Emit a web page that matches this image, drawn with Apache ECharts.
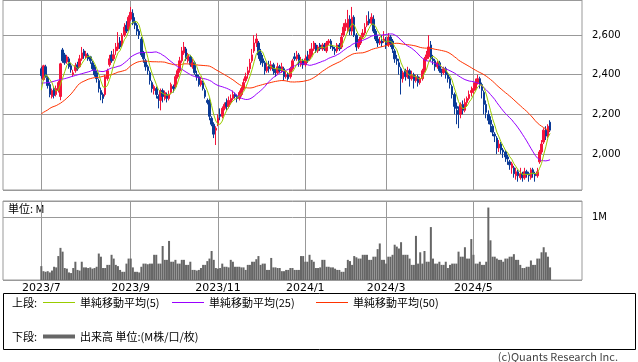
<!DOCTYPE html>
<html><head><meta charset="utf-8">
<script src="https://cdn.jsdelivr.net/npm/echarts/dist/echarts.min.js"></script>
<style>html,body{margin:0;padding:0;background:#fff}#c{width:638px;height:362px}</style>
</head><body><div id="c"></div><script>
// ---- data ----
// daily candles 2023/7/3 .. 2024/6/24 : [open, close, low, high]
const candles = [
[2430,2395,2380,2440],[2375,2445,2370,2450],[2440,2390,2385,2450],[2385,2345,2330,2395],[2350,2300,2286,2360],
[2290,2320,2280,2330],[2330,2295,2280,2340],[2300,2330,2290,2345],[2320,2360,2310,2370],[2290,2455,2271,2460],
[2525,2470,2460,2535],[2500,2460,2450,2510],[2465,2490,2455,2500],[2480,2440,2430,2490],[2445,2425,2410,2460],
[2400,2410,2390,2425],[2420,2445,2410,2460],[2450,2430,2420,2465],[2440,2480,2435,2500],[2480,2510,2470,2540],
[2520,2495,2480,2530],[2490,2505,2480,2520],[2500,2480,2470,2510],[2490,2470,2455,2495],[2460,2430,2420,2470],
[2440,2400,2390,2450],[2410,2380,2360,2420],[2370,2330,2310,2380],[2320,2300,2271,2335],[2300,2280,2256,2310],
[2300,2390,2290,2400],[2380,2420,2370,2430],[2450,2480,2440,2500],[2500,2470,2460,2520],[2480,2500,2470,2530],
[2520,2540,2500,2560],[2530,2560,2520,2615],[2570,2540,2530,2590],[2550,2600,2540,2610],[2600,2640,2590,2660],
[2650,2620,2610,2670],[2630,2690,2620,2700],[2680,2715,2670,2742],[2710,2660,2650,2730],[2670,2650,2630,2690],
[2650,2620,2600,2660],[2620,2600,2580,2630],[2580,2500,2490,2590],[2510,2480,2460,2520],[2470,2440,2420,2480],
[2440,2420,2400,2450],[2410,2370,2350,2420],[2360,2330,2310,2370],[2320,2340,2300,2350],[2330,2300,2280,2340],
[2290,2280,2230,2300],[2270,2320,2220,2330],[2320,2290,2260,2330],[2280,2310,2270,2320],[2300,2280,2260,2310],
[2280,2300,2270,2320],[2310,2350,2300,2360],[2340,2330,2310,2350],[2340,2390,2330,2400],[2390,2420,2380,2430],
[2420,2470,2410,2490],[2470,2520,2460,2540],[2510,2540,2500,2565],[2530,2480,2470,2540],[2470,2500,2460,2510],
[2490,2450,2440,2500],[2440,2460,2430,2480],[2460,2410,2400,2470],[2400,2390,2370,2420],[2390,2350,2340,2400],
[2350,2370,2340,2390],[2360,2330,2320,2370],[2320,2290,2280,2330],[2270,2260,2250,2280],[2270,2190,2170,2280],
[2180,2150,2140,2190],[2150,2100,2080,2160],[2120,2130,2045,2140],[2150,2180,2140,2200],[2200,2190,2170,2230],
[2190,2230,2180,2240],[2230,2250,2220,2260],[2260,2240,2220,2280],[2240,2270,2230,2290],[2260,2280,2250,2300],
[2280,2300,2270,2320],[2300,2290,2280,2310],[2290,2280,2260,2300],[2280,2310,2270,2320],[2300,2330,2290,2340],
[2330,2360,2320,2380],[2370,2390,2360,2410],[2400,2420,2380,2440],[2430,2460,2410,2480],[2470,2500,2460,2530],
[2520,2560,2510,2600],[2560,2580,2540,2608],[2560,2500,2480,2570],[2510,2470,2450,2530],[2480,2460,2440,2500],
[2460,2420,2400,2470],[2420,2440,2410,2460],[2450,2430,2410,2470],[2430,2450,2420,2470],[2450,2420,2400,2460],
[2420,2410,2390,2430],[2410,2440,2400,2460],[2440,2420,2410,2450],[2420,2440,2410,2460],[2430,2390,2370,2440],
[2390,2400,2380,2420],[2400,2380,2370,2410],[2390,2430,2380,2440],[2430,2470,2420,2480],[2490,2480,2470,2510],
[2480,2500,2470,2520],[2500,2460,2440,2510],[2450,2470,2440,2490],[2470,2450,2430,2480],[2450,2480,2440,2500],
[2490,2470,2460,2520],[2480,2500,2470,2530],[2500,2530,2490,2560],[2530,2560,2520,2570],[2550,2520,2510,2560],
[2520,2540,2510,2550],[2550,2530,2520,2560],[2530,2550,2520,2560],[2550,2530,2520,2560],[2520,2560,2510,2570],
[2560,2570,2550,2580],[2570,2540,2530,2580],[2540,2530,2520,2550],[2530,2520,2500,2540],[2520,2550,2510,2560],
[2550,2530,2520,2560],[2540,2590,2530,2610],[2600,2640,2590,2660],[2640,2660,2620,2680],[2620,2680,2610,2727],
[2680,2620,2600,2700],[2620,2690,2600,2742],[2690,2600,2590,2700],[2600,2540,2520,2610],[2540,2560,2530,2580],
[2560,2590,2550,2600],[2590,2610,2580,2630],[2610,2640,2600,2660],[2650,2670,2640,2700],[2680,2660,2650,2720],
[2660,2690,2650,2710],[2680,2620,2610,2700],[2620,2580,2570,2630],[2580,2560,2540,2600],[2560,2570,2550,2590],
[2570,2560,2540,2600],[2570,2580,2560,2620],[2570,2550,2530,2590],[2550,2590,2540,2610],[2590,2560,2540,2600],
[2570,2530,2510,2580],[2520,2480,2460,2530],[2480,2470,2450,2500],[2460,2440,2400,2480],[2430,2380,2300,2440],
[2380,2410,2360,2420],[2420,2390,2370,2430],[2390,2420,2380,2440],[2420,2380,2340,2430],[2380,2400,2370,2420],
[2400,2370,2330,2410],[2370,2390,2360,2400],[2390,2360,2340,2400],[2360,2380,2350,2390],[2380,2420,2370,2430],
[2420,2480,2410,2490],[2480,2500,2470,2520],[2490,2540,2480,2600],[2550,2480,2470,2570],[2480,2470,2450,2500],
[2470,2440,2420,2480],[2440,2460,2430,2470],[2460,2420,2410,2470],[2420,2410,2390,2430],[2410,2430,2400,2440],
[2430,2400,2380,2440],[2400,2380,2360,2410],[2380,2350,2330,2390],[2340,2300,2280,2350],[2300,2240,2200,2310],
[2240,2230,2150,2260],[2220,2200,2130,2240],[2200,2250,2180,2260],[2250,2220,2200,2270],[2220,2260,2210,2280],
[2260,2280,2240,2290],[2280,2300,2270,2320],[2310,2320,2290,2340],[2320,2330,2300,2360],[2330,2360,2320,2380],
[2360,2380,2350,2400],[2380,2350,2330,2390],[2350,2320,2280,2360],[2310,2250,2200,2320],[2250,2210,2180,2270],
[2200,2170,2150,2220],[2170,2150,2110,2190],[2140,2110,2090,2150],[2100,2090,2060,2110],[2080,2030,2000,2090],
[2030,2050,2010,2070],[2050,2020,2000,2060],[2020,2010,1980,2030],[2010,1985,1960,2020],[1985,1975,1945,1995],
[1960,1945,1920,1970],[1930,1950,1900,1960],[1930,1900,1880,1940],[1890,1910,1870,1930],[1910,1890,1860,1920],
[1880,1900,1870,1930],[1900,1880,1860,1910],[1880,1910,1870,1930],[1910,1900,1880,1920],[1900,1890,1860,1910],
[1880,1920,1870,1930],[1920,1900,1880,1930],[1900,1890,1860,1910],[1890,1910,1880,1930],[1960,2010,1950,2020],
[2010,2050,2000,2070],[2060,2120,2050,2130],[2120,2090,2070,2140],[2090,2140,2080,2150],[2160,2120,2110,2170]
];
// volume, millions of shares
const volumes = [
0.22,0.14,0.13,0.14,0.12,0.15,0.21,0.20,0.38,0.51,0.45,0.19,0.18,0.12,0.11,0.19,0.29,0.16,0.15,0.29,
0.20,0.20,0.19,0.20,0.18,0.19,0.21,0.42,0.37,0.19,0.19,0.24,0.24,0.40,0.34,0.24,0.22,0.16,0.13,0.13,
0.26,0.34,0.34,0.20,0.13,0.13,0.12,0.21,0.26,0.26,0.25,0.26,0.26,0.40,0.40,0.26,0.26,0.54,0.32,0.32,
0.62,0.29,0.29,0.32,0.26,0.26,0.32,0.32,0.24,0.24,0.29,0.16,0.16,0.15,0.16,0.19,0.24,0.24,0.30,0.34,
0.46,0.32,0.19,0.18,0.19,0.26,0.21,0.21,0.20,0.32,0.29,0.21,0.21,0.21,0.20,0.20,0.16,0.24,0.24,0.29,
0.29,0.33,0.38,0.24,0.26,0.26,0.16,0.16,0.35,0.20,0.20,0.19,0.19,0.14,0.14,0.16,0.16,0.19,0.19,0.16,
0.16,0.16,0.38,0.38,0.29,0.29,0.40,0.32,0.29,0.19,0.19,0.20,0.32,0.32,0.21,0.21,0.20,0.20,0.18,0.16,
0.16,0.13,0.13,0.19,0.32,0.30,0.24,0.38,0.36,0.34,0.34,0.40,0.40,0.40,0.32,0.32,0.37,0.37,0.49,0.58,
0.32,0.32,0.26,0.37,0.37,0.40,0.56,0.53,0.50,0.60,0.40,0.40,0.40,0.34,0.24,0.24,0.70,0.26,0.44,0.26,
0.46,0.29,0.29,0.84,0.34,0.26,0.26,0.29,0.24,0.24,0.29,0.19,0.24,0.26,0.26,0.26,0.45,0.37,0.37,0.52,
0.34,0.34,0.65,0.40,0.26,0.26,0.29,0.24,0.24,0.29,1.15,0.63,0.37,0.37,0.34,0.32,0.32,0.29,0.34,0.34,
0.37,0.37,0.41,0.32,0.32,0.24,0.19,0.19,0.21,0.21,0.31,0.24,0.24,0.34,0.34,0.44,0.52,0.44,0.37,0.20
];
// moving averages on the first days (they need data from before the visible period)
const ma5Head = [2322,2378,2400,2392];
const ma25Head = [2357,2358,2359,2360,2362,2364,2367,2370,2373,2376,2378,2380,2383,2386,2390,2393,2396,2399,2402,2405,2408,2411,2414,2417];
const ma50Head = [2202,2210,2216,2222,2230,2236,2240,2244,2250,2256,2264,2272,2282,2292,2303,2316,2330,2345,2355,2362,2367,2372,2377,2380,2383,
2385,2386,2387,2389,2392,2394,2397,2398,2400,2404,2408,2413,2415,2418,2421,2425,2435,2445,2452,2458,2463,2466,2468,2469];
const priceTicks = [2000, 2200, 2400, 2600];
const holidays = ['2023-07-17','2023-08-11','2023-09-18','2023-10-09','2023-11-03','2023-11-23','2024-01-01','2024-01-02','2024-01-03',
'2024-01-08','2024-02-12','2024-02-23','2024-03-20','2024-04-29','2024-05-03','2024-05-06','2024-07-15'];
const PAD_BEFORE = 18, TOTAL = 273;

// ---- build categories (trading days) ----
const dates = [];
(function(){
  const d = new Date(Date.UTC(2023,5,7));
  while (dates.length < TOTAL) {
    const wd = d.getUTCDay();
    const iso = d.toISOString().slice(0,10);
    if (wd !== 0 && wd !== 6 && holidays.indexOf(iso) < 0) dates.push(iso.replace(/-/g,'/'));
    d.setUTCDate(d.getUTCDate()+1);
  }
})();
const n = candles.length;
const monthStart = new Set();
for (let k = PAD_BEFORE; k < PAD_BEFORE + n; k++) {
  const m = +dates[k].slice(5,7), pm = +dates[k-1].slice(5,7);
  if (m !== pm && m % 2 === 1) monthStart.add(k);
}
const closes = candles.map(r => r[1]);
function sma(len, head) {
  return closes.map((c, i) => {
    if (i < head.length) return head[i];
    const s = Math.max(0, i - len + 1);
    let sum = 0; for (let j = s; j <= i; j++) sum += closes[j];
    return Math.round(sum / (i - s + 1) * 10) / 10;
  });
}
const pad = (arr, empty) => {
  const out = [];
  for (let k = 0; k < TOTAL; k++) {
    const i = k - PAD_BEFORE;
    out.push(i >= 0 && i < arr.length ? arr[i] : empty);
  }
  return out;
};
const fmt = v => String(v).replace(/\B(?=(\d{3})+(?!\d))/g, ',');

const GRID = '#999';
const chart = echarts.init(document.getElementById('c'), null, {renderer:'canvas'});
const lineSeries = (name, data, color) => ({
  name, type:'line', data: pad(data,'-'), xAxisIndex:0, yAxisIndex:0, symbol:'none',
  lineStyle:{color, width:1}, itemStyle:{color}, z:5, silent:true, animation:false
});
const legendText = {fontSize:11, fontFamily:'Noto Sans CJK JP', color:'#000'};
const mkLegend = (name, left, top, h) => ({
  data:[name], left, top, padding:0, itemWidth:32, itemHeight:h, icon:'rect',
  selectedMode:false, textStyle:legendText, itemGap:0
});
chart.setOption({
  animation:false,
  backgroundColor:'#fff',
  grid:[
    {left:3, top:0, width:579, height:190, show:true, borderColor:GRID, borderWidth:1, outerBoundsMode:'none'},
    {left:3, top:201, width:579, height:79, show:true, borderColor:GRID, borderWidth:1, outerBoundsMode:'none'}
  ],
  xAxis:[
    {type:'category', gridIndex:0, data:dates, boundaryGap:false,
     axisLine:{show:false}, axisTick:{show:false}, axisLabel:{show:false},
     splitLine:{show:true, interval:(i)=>monthStart.has(i), lineStyle:{color:GRID, width:1}}},
    {type:'category', gridIndex:1, data:dates, boundaryGap:false,
     axisLine:{show:false}, axisTick:{show:false},
     axisLabel:{interval:(i)=>monthStart.has(i), formatter:(v)=>v.slice(0,4)+'/'+(+v.slice(5,7)),
       fontSize:11, fontFamily:'DejaVu Sans', color:'#000', margin:3, hideOverlap:false},
     splitLine:{show:true, interval:(i)=>monthStart.has(i), lineStyle:{color:GRID, width:1}}}
  ],
  yAxis:[
    {type:'value', gridIndex:0, position:'right', min:1818, max:2777, splitNumber:5, scale:true,
     axisLine:{show:false}, axisTick:{show:false},
     axisLabel:{margin:10, fontSize:10, fontFamily:'DejaVu Sans', color:'#000',
       showMinLabel:false, showMaxLabel:false,
       formatter:(v)=> priceTicks.indexOf(v) >= 0 ? fmt(v) : ''},
     splitLine:{lineStyle:{color:GRID, width:1}}},
    {type:'value', gridIndex:1, position:'right', min:0, max:1.254, interval:1,
     axisLine:{show:false}, axisTick:{show:false},
     axisLabel:{margin:10, fontSize:10, fontFamily:'DejaVu Sans', color:'#000',
       showMinLabel:false, showMaxLabel:false, formatter:(v)=> v === 1 ? '1M' : ''},
     splitLine:{lineStyle:{color:GRID, width:1}}}
  ],
  legend:[
    mkLegend('単純移動平均(5)', 43, 297, 1),
    mkLegend('単純移動平均(25)', 172, 297, 1),
    mkLegend('単純移動平均(50)', 316, 297, 1),
    mkLegend('出来高 単位:(M株/口/枚)', 43, 331, 4)
  ],
  series:[
    {name:'株価', type:'candlestick', xAxisIndex:0, yAxisIndex:0,
     data: pad(candles, ['-','-','-','-']), barWidth:2, silent:true,
     itemStyle:{color:'#f5143c', color0:'#0a3a96', borderColor:'#f5143c', borderColor0:'#0a3a96', borderWidth:1}},
    lineSeries('単純移動平均(50)', sma(50, ma50Head), '#ff3300'),
    lineSeries('単純移動平均(25)', sma(25, ma25Head), '#9900ff'),
    lineSeries('単純移動平均(5)', sma(5, ma5Head), '#99cc00'),
    {name:'出来高 単位:(M株/口/枚)', type:'bar', xAxisIndex:1, yAxisIndex:1, data: pad(volumes,'-'),
     barWidth:2, itemStyle:{color:'#666'}, silent:true}
  ],
  graphic:[
    {type:'text', left:8, top:203, style:{text:'単位: M', font:'11px "Noto Sans CJK JP"', fill:'#000'}},
    {type:'rect', shape:{x:3.5, y:293.5, width:632, height:56}, style:{fill:'none', stroke:'#000', lineWidth:1}, silent:true},
    {type:'text', x:12, y:303, style:{text:'上段:', font:'11px "Noto Sans CJK JP"', fill:'#000', verticalAlign:'middle'}},
    {type:'text', x:12, y:337, style:{text:'下段:', font:'11px "Noto Sans CJK JP"', fill:'#000', verticalAlign:'middle'}},
    {type:'text', x:618, y:357, style:{text:'(c)Quants Research Inc.', font:'11px "Noto Sans CJK JP"', fill:'#444', align:'right', verticalAlign:'middle'}}
  ]
});
</script></body></html>
